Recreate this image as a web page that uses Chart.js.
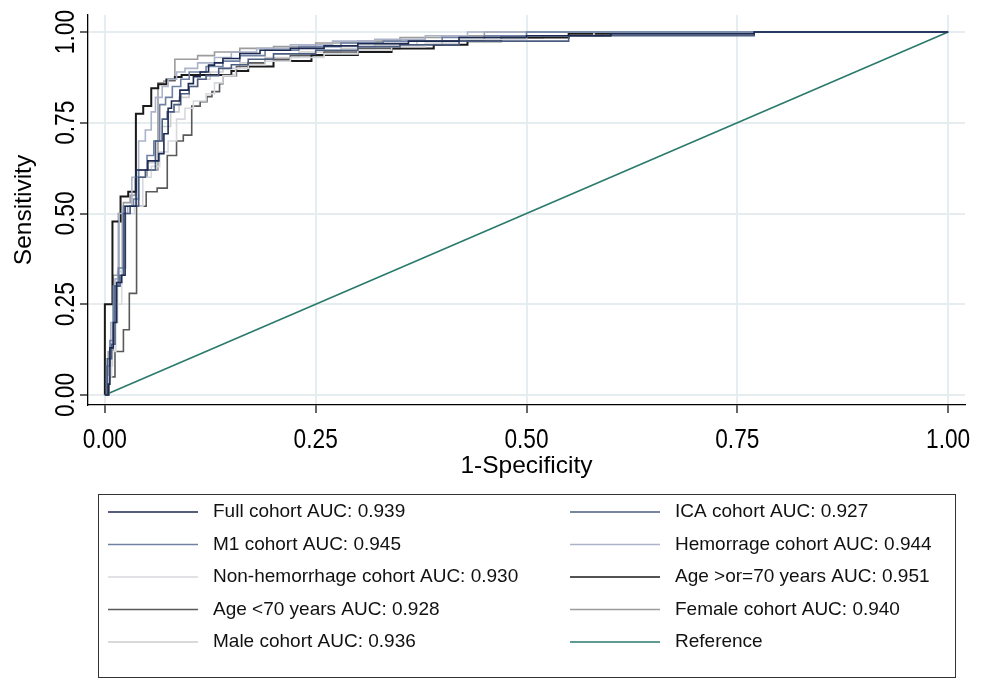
<!DOCTYPE html>
<html>
<head>
<meta charset="utf-8">
<script src="https://cdn.jsdelivr.net/npm/chart.js@4/dist/chart.umd.min.js"></script>
<style>
  body { margin: 0; background: #fff; }
  #wrap { width: 986px; height: 680px; }
</style>
</head>
<body>
<div id="wrap"><canvas id="roc" width="986" height="680"></canvas></div>
<script>
// tick values used on both axes
let tickValues = [0, 0.25, 0.5, 0.75, 1]

// ROC points: (1-specificity, sensitivity) after each step
let fullFpr = [0, 0.004, 0.006, 0.010, 0.014, 0.020, 0.024, 0.037, 0.051, 0.064, 0.070, 0.075, 0.079, 0.089, 0.099, 0.105, 0.113, 0.123, 0.130, 0.140, 0.160, 0.184, 0.220, 0.260, 0.300, 0.360, 0.420, 0.500, 0.600, 0.770, 1]
let fullTpr = [0, 0.03, 0.13, 0.20, 0.31, 0.33, 0.52, 0.62, 0.645, 0.665, 0.72, 0.79, 0.81, 0.84, 0.858, 0.877, 0.89, 0.909, 0.915, 0.927, 0.941, 0.95, 0.955, 0.962, 0.968, 0.975, 0.985, 0.99, 0.995, 1, 1]

let icaFpr = [0, 0.003, 0.008, 0.012, 0.018, 0.022, 0.030, 0.040, 0.048, 0.060, 0.068, 0.074, 0.082, 0.090, 0.100, 0.110, 0.120, 0.135, 0.150, 0.170, 0.200, 0.250, 0.300, 0.350, 0.420, 0.550, 0.770, 1]
let icaTpr = [0, 0.10, 0.14, 0.30, 0.33, 0.50, 0.52, 0.60, 0.62, 0.70, 0.76, 0.78, 0.80, 0.83, 0.85, 0.87, 0.88, 0.90, 0.91, 0.925, 0.94, 0.95, 0.96, 0.965, 0.975, 0.99, 1, 1]

let m1Fpr = [0, 0.002, 0.006, 0.010, 0.016, 0.022, 0.034, 0.040, 0.050, 0.058, 0.065, 0.072, 0.080, 0.090, 0.100, 0.120, 0.140, 0.160, 0.190, 0.230, 0.280, 0.330, 0.400, 0.450, 0.500, 1]
let m1Tpr = [0, 0.08, 0.15, 0.30, 0.35, 0.52, 0.54, 0.62, 0.66, 0.70, 0.80, 0.82, 0.85, 0.87, 0.89, 0.905, 0.92, 0.935, 0.95, 0.96, 0.97, 0.975, 0.985, 0.99, 1, 1]

let hemFpr = [0, 0.003, 0.007, 0.012, 0.017, 0.027, 0.032, 0.040, 0.048, 0.055, 0.060, 0.068, 0.075, 0.085, 0.095, 0.110, 0.130, 0.150, 0.180, 0.220, 0.270, 0.320, 0.380, 0.430, 1]
let hemTpr = [0, 0.10, 0.20, 0.32, 0.50, 0.52, 0.60, 0.70, 0.73, 0.78, 0.82, 0.85, 0.87, 0.89, 0.90, 0.915, 0.93, 0.945, 0.955, 0.965, 0.975, 0.98, 0.99, 1, 1]

let nonHemFpr = [0, 0.004, 0.008, 0.013, 0.020, 0.025, 0.035, 0.045, 0.055, 0.065, 0.075, 0.085, 0.095, 0.105, 0.120, 0.130, 0.140, 0.155, 0.170, 0.190, 0.220, 0.260, 0.300, 0.340, 0.380, 0.420, 0.500, 0.580, 1]
let nonHemTpr = [0, 0.05, 0.12, 0.25, 0.35, 0.50, 0.52, 0.60, 0.63, 0.67, 0.70, 0.76, 0.79, 0.81, 0.83, 0.86, 0.88, 0.90, 0.91, 0.92, 0.93, 0.94, 0.95, 0.96, 0.97, 0.98, 0.99, 1, 1]

let age70PlusFpr = [0, 0, 0.009, 0.0186, 0.0277, 0.0368, 0.0455, 0.055, 0.0633, 0.073, 0.083, 0.091, 0.150, 0.170, 0.200, 0.245, 0.300, 0.340, 0.390, 0.430, 0.470, 0.550, 0.600, 1]
let age70PlusTpr = [0, 0.25, 0.478, 0.547, 0.56, 0.775, 0.796, 0.845, 0.856, 0.869, 0.876, 0.882, 0.893, 0.905, 0.92, 0.937, 0.945, 0.955, 0.965, 0.975, 0.985, 0.995, 1, 1]

let ageUnder70Fpr = [0, 0.005, 0.012, 0.022, 0.029, 0.0376, 0.049, 0.062, 0.074, 0.085, 0.093, 0.103, 0.113, 0.121, 0.127, 0.136, 0.140, 0.156, 0.170, 0.190, 0.220, 0.260, 0.300, 0.350, 0.400, 0.450, 0.520, 0.600, 1]
let ageUnder70Tpr = [0, 0.05, 0.12, 0.18, 0.28, 0.52, 0.56, 0.57, 0.66, 0.70, 0.716, 0.796, 0.808, 0.822, 0.836, 0.858, 0.88, 0.905, 0.915, 0.925, 0.935, 0.945, 0.955, 0.965, 0.975, 0.985, 0.99, 1, 1]

let femaleFpr = [0, 0.004, 0.010, 0.016, 0.022, 0.030, 0.036, 0.050, 0.063, 0.070, 0.083, 0.110, 0.130, 0.160, 0.200, 0.250, 0.300, 0.350, 0.400, 0.450, 1]
let femaleTpr = [0, 0.12, 0.33, 0.50, 0.53, 0.55, 0.60, 0.62, 0.86, 0.865, 0.925, 0.935, 0.945, 0.955, 0.96, 0.97, 0.975, 0.985, 0.99, 1, 1]

let maleFpr = [0, 0.003, 0.009, 0.015, 0.020, 0.030, 0.040, 0.050, 0.060, 0.068, 0.078, 0.088, 0.100, 0.110, 0.125, 0.140, 0.160, 0.190, 0.230, 0.280, 0.320, 0.370, 0.450, 0.520, 0.590, 1]
let maleTpr = [0, 0.08, 0.20, 0.34, 0.50, 0.52, 0.60, 0.64, 0.70, 0.74, 0.78, 0.82, 0.85, 0.87, 0.89, 0.90, 0.915, 0.93, 0.945, 0.955, 0.965, 0.975, 0.985, 0.99, 1, 1]

let refFpr = [0, 1]
let refTpr = [0, 1]

// legend order follows the original (filled row by row, 2 columns)
let labels = ['Full cohort AUC: 0.939', 'ICA cohort AUC: 0.927',
              'M1 cohort AUC: 0.945', 'Hemorrage cohort AUC: 0.944',
              'Non-hemorrhage cohort AUC: 0.930', 'Age >or=70 years AUC: 0.951',
              'Age <70 years AUC: 0.928', 'Female cohort AUC: 0.940',
              'Male cohort AUC: 0.936', 'Reference']
let fprs = [fullFpr, icaFpr, m1Fpr, hemFpr, nonHemFpr, age70PlusFpr, ageUnder70Fpr, femaleFpr, maleFpr, refFpr]
let tprs = [fullTpr, icaTpr, m1Tpr, hemTpr, nonHemTpr, age70PlusTpr, ageUnder70Tpr, femaleTpr, maleTpr, refTpr]
let colors = ['#1c2a52', '#4b5d80', '#6f82a6', '#aab3c9', '#d6d9de', '#1a1a1a', '#595959', '#9c9c9c', '#cdcdcd', '#2a7a6b']

let fontFamily = "'Liberation Sans', Arial, Helvetica, sans-serif"

let datasets = []
for (let i = 0; i < labels.length; i++)
{
    let pts = fprs[i].map((x, j) => ({x: x, y: tprs[i][j]}))
    datasets.push({
        label: labels[i],
        data: pts,
        borderColor: colors[i],
        backgroundColor: colors[i],
        borderWidth: i == 5 ? 2 : 1.6,
        pointRadius: 0,
        fill: false,
        stepped: i == 9 ? false : 'before'
    })
}

// tick labels use a condensed face in the original; squeeze them by hand
let narrowTicks = {
    id: 'narrowTicks',
    afterDraw(chart)
    {
        let ctx = chart.ctx
        let xs = chart.scales.x
        let ys = chart.scales.y
        ctx.save()
        ctx.font = '27px ' + fontFamily
        ctx.fillStyle = '#000'
        ctx.textAlign = 'center'
        ctx.textBaseline = 'alphabetic'
        for (let v of tickValues)
        {
            // x axis
            ctx.save()
            ctx.translate(xs.getPixelForValue(v), 448)
            ctx.scale(0.84, 1)
            ctx.fillText(v.toFixed(2), 0, 0)
            ctx.restore()
            // y axis, reading bottom to top
            ctx.save()
            ctx.translate(74, ys.getPixelForValue(v))
            ctx.rotate(-Math.PI / 2)
            ctx.scale(0.84, 1)
            ctx.fillText(v.toFixed(2), 0, 0)
            ctx.restore()
        }
        ctx.restore()
    }
}

// boxed two-column legend under the plot
let boxLegend = {
    id: 'boxLegend',
    afterDraw(chart)
    {
        let ctx = chart.ctx
        ctx.save()
        ctx.strokeStyle = '#333'
        ctx.lineWidth = 1
        ctx.strokeRect(98.5, 494.5, 857, 183)
        ctx.font = '19px ' + fontFamily
        ctx.textBaseline = 'middle'
        ctx.textAlign = 'left'
        chart.data.datasets.forEach((ds, i) => {
            let col = i % 2
            let row = Math.floor(i / 2)
            let y = 512 + row * 32.5
            let x0 = col == 0 ? 108 : 570
            ctx.strokeStyle = ds.borderColor
            ctx.lineWidth = 1.6
            ctx.beginPath()
            ctx.moveTo(x0, y)
            ctx.lineTo(x0 + 90, y)
            ctx.stroke()
            ctx.fillStyle = '#111'
            ctx.fillText(ds.label, x0 + 105, y)
        })
        ctx.restore()
    }
}

let setTicks = (scale) => { scale.ticks = tickValues.map(v => ({value: v})) }

let chart = new Chart(document.getElementById('roc').getContext('2d'), {
    type: 'line',
    data: { datasets: datasets },
    options: {
        responsive: false,
        animation: false,
        layout: { padding: { top: 15, right: 21, bottom: 199, left: 0 } },
        plugins: {
            legend: { display: false },
            tooltip: { enabled: false }
        },
        scales: {
            x: {
                type: 'linear',
                min: -0.02,
                max: 1.02,
                afterBuildTicks: setTicks,
                afterFit: (scale) => { scale.height = 76 },
                grid: { color: '#e5edf0', lineWidth: 2, tickLength: 8, tickColor: '#000', tickWidth: 1.2 },
                border: { display: true, color: '#000', width: 1.3 },
                ticks: { display: false },
                title: {
                    display: true,
                    text: '1-Specificity',
                    color: '#000',
                    padding: { top: 0, bottom: 0 },
                    font: { size: 24.5, family: fontFamily }
                }
            },
            y: {
                type: 'linear',
                min: -0.0275,
                max: 1.047,
                afterBuildTicks: setTicks,
                afterFit: (scale) => { scale.width = 88 },
                grid: { color: '#e5edf0', lineWidth: 2, tickLength: 8, tickColor: '#000', tickWidth: 1.2 },
                border: { display: true, color: '#000', width: 1.3 },
                ticks: { display: false },
                title: {
                    display: true,
                    text: 'Sensitivity',
                    color: '#000',
                    padding: { top: 10, bottom: 0 },
                    font: { size: 24.5, family: fontFamily }
                }
            }
        }
    },
    plugins: [narrowTicks, boxLegend]
})
</script>
</body>
</html>
